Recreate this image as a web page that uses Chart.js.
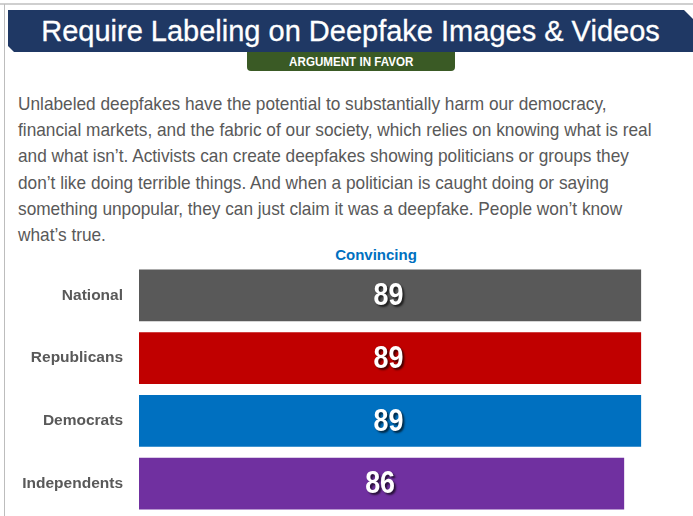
<!DOCTYPE html>
<html>
<head>
<meta charset="utf-8">
<script src="https://cdn.jsdelivr.net/npm/chart.js@4"></script>
<style>
  html, body { margin: 0; padding: 0; background: #ffffff; }
  body { width: 693px; height: 516px; position: relative; overflow: hidden; font-family: 'Liberation Sans', Arial, sans-serif; }
  .frame-top { position: absolute; left: 0; top: 3px; width: 693px; height: 2px; background: #cfcfcf; }
  .frame-left { position: absolute; left: 4px; top: 4px; width: 1px; height: 512px; background: #bdbdbd; }
  .banner {
    position: absolute; left: 8px; top: 10px; width: 685px; height: 42px; background: #1f3864;
    clip-path: polygon(0 0, calc(100% - 9px) 0, 100% 9px, 100% 100%, 6px 100%, 0 calc(100% - 6px));
  }
  .banner h1 {
    margin: 0; color: #ffffff; font-weight: normal; font-size: 29px; line-height: 42px;
    text-align: center; white-space: nowrap; -webkit-text-stroke: 0.3px #ffffff;
  }
  .tab {
    position: absolute; left: 247px; top: 52px; width: 208px; height: 19px; background: #3a5a25;
    border-radius: 0 0 4px 4px; text-align: center;
  }
  .tab span {
    display: inline-block; color: #ffffff; font-weight: bold; font-size: 13.5px; line-height: 19px;
    transform: scaleX(0.86); white-space: nowrap;
  }
  .argument {
    position: absolute; left: 18px; top: 91px; width: 760px; margin: 0;
    color: #595959; font-size: 19px; line-height: 26.2px;
    transform: scaleX(0.908); transform-origin: 0 0; white-space: nowrap;
  }
  .subtitle {
    position: absolute; left: 276px; width: 200px; top: 245px; text-align: center;
    color: #0070c0; font-weight: bold; font-size: 15px; line-height: 20px;
  }
  #chart { position: absolute; left: 0; top: 264px; }
</style>
</head>
<body>
<div class="frame-top"></div>
<div class="frame-left"></div>
<div class="banner"><h1>Require Labeling on Deepfake Images &amp; Videos</h1></div>
<div class="tab"><span>ARGUMENT IN FAVOR</span></div>
<p class="argument">Unlabeled deepfakes have the potential to substantially harm our democracy,<br>financial markets, and the fabric of our society, which relies on knowing what is real<br>and what isn’t. Activists can create deepfakes showing politicians or groups they<br>don’t like doing terrible things. And when a politician is caught doing or saying<br>something unpopular, they can just claim it was a deepfake. People won’t know<br>what’s true.</p>
<div class="subtitle">Convincing</div>
<canvas id="chart" width="693" height="251"></canvas>
<script>
// Share finding the argument convincing, by group
const groups = ['National', 'Republicans', 'Democrats', 'Independents'];
const convincing = [89, 89, 89, 86];
const groupColors = ['#595959', '#c00000', '#0070c0', '#7030a0'];

// Writes each bar's value in its middle, white with a soft drop shadow
const barValueLabels = {
  id: 'barValueLabels',
  afterDatasetsDraw(chart) {
    const ctx = chart.ctx;
    const meta = chart.getDatasetMeta(0);
    const values = chart.data.datasets[0].data;
    meta.data.forEach((bar, i) => {
      const cx = (bar.x + bar.base) / 2;
      const cy = bar.y;
      ctx.save();
      ctx.translate(cx - 2, cy + 1);
      ctx.scale(0.84, 1);
      ctx.font = 'bold 32px "Liberation Sans", Arial, sans-serif';
      ctx.textAlign = 'center';
      ctx.textBaseline = 'middle';
      ctx.shadowColor = 'rgba(0,0,0,0.65)';
      ctx.shadowOffsetX = 2;
      ctx.shadowOffsetY = 2;
      ctx.shadowBlur = 2;
      ctx.fillStyle = '#ffffff';
      ctx.fillText(String(values[i]), 0, 0);
      ctx.restore();
    });
  }
};

new Chart(document.getElementById('chart'), {
  type: 'bar',
  data: {
    labels: groups,
    datasets: [{
      label: 'Convincing',
      data: convincing,
      backgroundColor: groupColors,
      borderColor: 'rgba(255,255,255,0.4)',
      borderWidth: 1,
      barPercentage: 0.86,
      categoryPercentage: 1
    }]
  },
  options: {
    indexAxis: 'y',
    responsive: false,
    animation: false,
    devicePixelRatio: 1,
    layout: { padding: 0 },
    plugins: {
      legend: { display: false },
      title: { display: false },
      tooltip: { enabled: false }
    },
    scales: {
      x: { display: false, min: 0, max: 98 },
      y: {
        grid: { display: false, drawTicks: false },
        border: { display: false },
        ticks: {
          padding: 16,
          color: '#595959',
          font: { family: '"Liberation Sans", Arial, sans-serif', size: 15.5, weight: 'bold' }
        },
        afterFit(scale) {
          // fixed label column; bars use the full canvas height
          scale.width = 139;
          scale.paddingTop = 0;
          scale.paddingBottom = 0;
        }
      }
    }
  },
  plugins: [barValueLabels]
});
</script>
</body>
</html>
